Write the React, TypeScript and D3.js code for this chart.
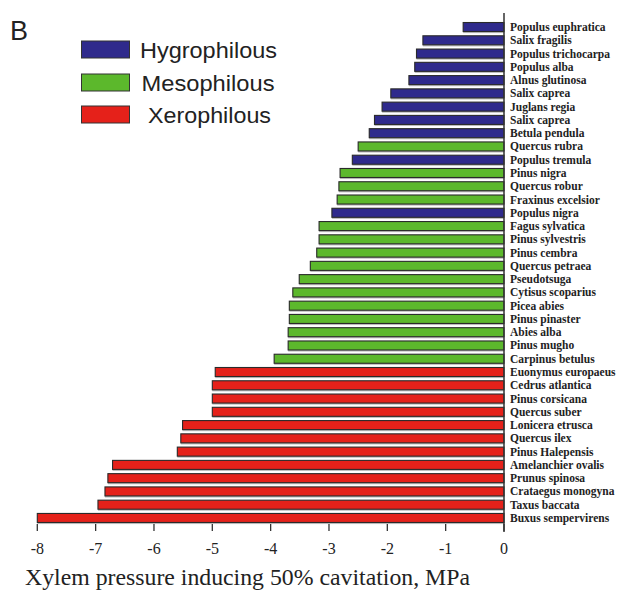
import React from "react";
import * as d3 from "d3";

const species = [
  "Populus euphratica", "Salix fragilis", "Populus trichocarpa", "Populus alba", "Alnus glutinosa",
  "Salix caprea", "Juglans regia", "Salix caprea", "Betula pendula", "Quercus rubra",
  "Populus tremula", "Pinus nigra", "Quercus robur", "Fraxinus excelsior", "Populus nigra",
  "Fagus sylvatica", "Pinus sylvestris", "Pinus cembra", "Quercus petraea", "Pseudotsuga",
  "Cytisus scoparius", "Picea abies", "Pinus pinaster", "Abies alba", "Pinus mugho",
  "Carpinus betulus", "Euonymus europaeus", "Cedrus atlantica", "Pinus corsicana", "Quercus suber",
  "Lonicera etrusca", "Quercus ilex", "Pinus Halepensis", "Amelanchier ovalis", "Prunus spinosa",
  "Crataegus monogyna", "Taxus baccata", "Buxus sempervirens",
];

const pressures = [
  -0.7, -1.39, -1.5, -1.53, -1.63,
  -1.94, -2.09, -2.22, -2.31, -2.5,
  -2.6, -2.81, -2.83, -2.86, -2.95,
  -3.17, -3.17, -3.21, -3.32, -3.51,
  -3.62, -3.68, -3.68, -3.7, -3.7,
  -3.94, -4.95, -5.0, -5.0, -5.0,
  -5.51, -5.54, -5.6, -6.71, -6.79,
  -6.84, -6.96, -8.0,
];

const groups = [
  "H", "H", "H", "H", "H",
  "H", "H", "H", "H", "M",
  "H", "M", "M", "M", "H",
  "M", "M", "M", "M", "M",
  "M", "M", "M", "M", "M",
  "M", "X", "X", "X", "X",
  "X", "X", "X", "X", "X",
  "X", "X", "X",
];

const legendKeys = ["H", "M", "X"];
const legendLabels = ["Hygrophilous", "Mesophilous", "Xerophilous"];
const xTicks = [-8, -7, -6, -5, -4, -3, -2, -1, 0];
const xTitle = "Xylem pressure inducing 50% cavitation, MPa";

const colors: Record<string, string> = { H: "#2f2a8c", M: "#5cb82c", X: "#e5211a" };

export default function App() {
  const W = 622, H = 590;
  const x = d3.scaleLinear().domain([-8, 0]).range([37.3, 504]);
  const idx = species.map((_, i) => i);
  const y = d3.scaleBand<number>().domain(idx).range([20.4, 524.6]).paddingInner(0.32).paddingOuter(0.16);
  const bw = y.bandwidth();
  const legendWidths = [137, 133, 123];

  return (
    <svg width={W} height={H} style={{ position: "absolute", left: 0, top: 0, background: "#fff" }}>
      <text x={10} y={40} fontFamily="Liberation Sans, Arial, sans-serif" fontSize={27} fill="#222">B</text>
      {legendKeys.map((k, i) => {
        const ly = [41, 74, 106][i];
        const tx = [140, 141.5, 148][i];
        return (
          <g key={k}>
            <rect x={81.5} y={ly} width={48} height={17} fill={colors[k]} stroke="#333" strokeWidth={1} />
            <text x={tx} y={ly + 16.5} fontFamily="Liberation Sans, Arial, sans-serif" fontSize={21.5} fill="#222"
              textLength={legendWidths[i]} lengthAdjust="spacingAndGlyphs">
              {legendLabels[i]}
            </text>
          </g>
        );
      })}
      {idx.map((i) => {
        const v = pressures[i];
        const y0 = y(i)!;
        return (
          <g key={i}>
            <rect x={x(v)} y={y0 + 1.6} width={x(0) - x(v)} height={bw} fill="#bdbdbd" />
            <rect x={x(v)} y={y0} width={x(0) - x(v)} height={bw} fill={colors[groups[i]]} stroke="#2a2a2a" strokeWidth={1.1} />
            <text x={510} y={y0 + bw / 2 + 4} fontFamily="Liberation Serif, Times New Roman, serif" fontSize={11.5}
              fontWeight="bold" fill="#222">
              {species[i]}
            </text>
          </g>
        );
      })}
      <line x1={x(0)} x2={x(0)} y1={13} y2={532} stroke="#333" strokeWidth={1.5} />
      {xTicks.map((t) => (
        <g key={t}>
          <line x1={x(t)} x2={x(t)} y1={524} y2={531} stroke="#333" strokeWidth={1.3} />
          <text x={x(t)} y={554} textAnchor="middle" fontFamily="Liberation Serif, Times New Roman, serif" fontSize={16} fill="#222">
            {t}
          </text>
        </g>
      ))}
      <text x={25} y={585} fontFamily="Liberation Serif, Times New Roman, serif" fontSize={23} fill="#222"
        textLength={445} lengthAdjust="spacingAndGlyphs">{xTitle}</text>
    </svg>
  );
}
